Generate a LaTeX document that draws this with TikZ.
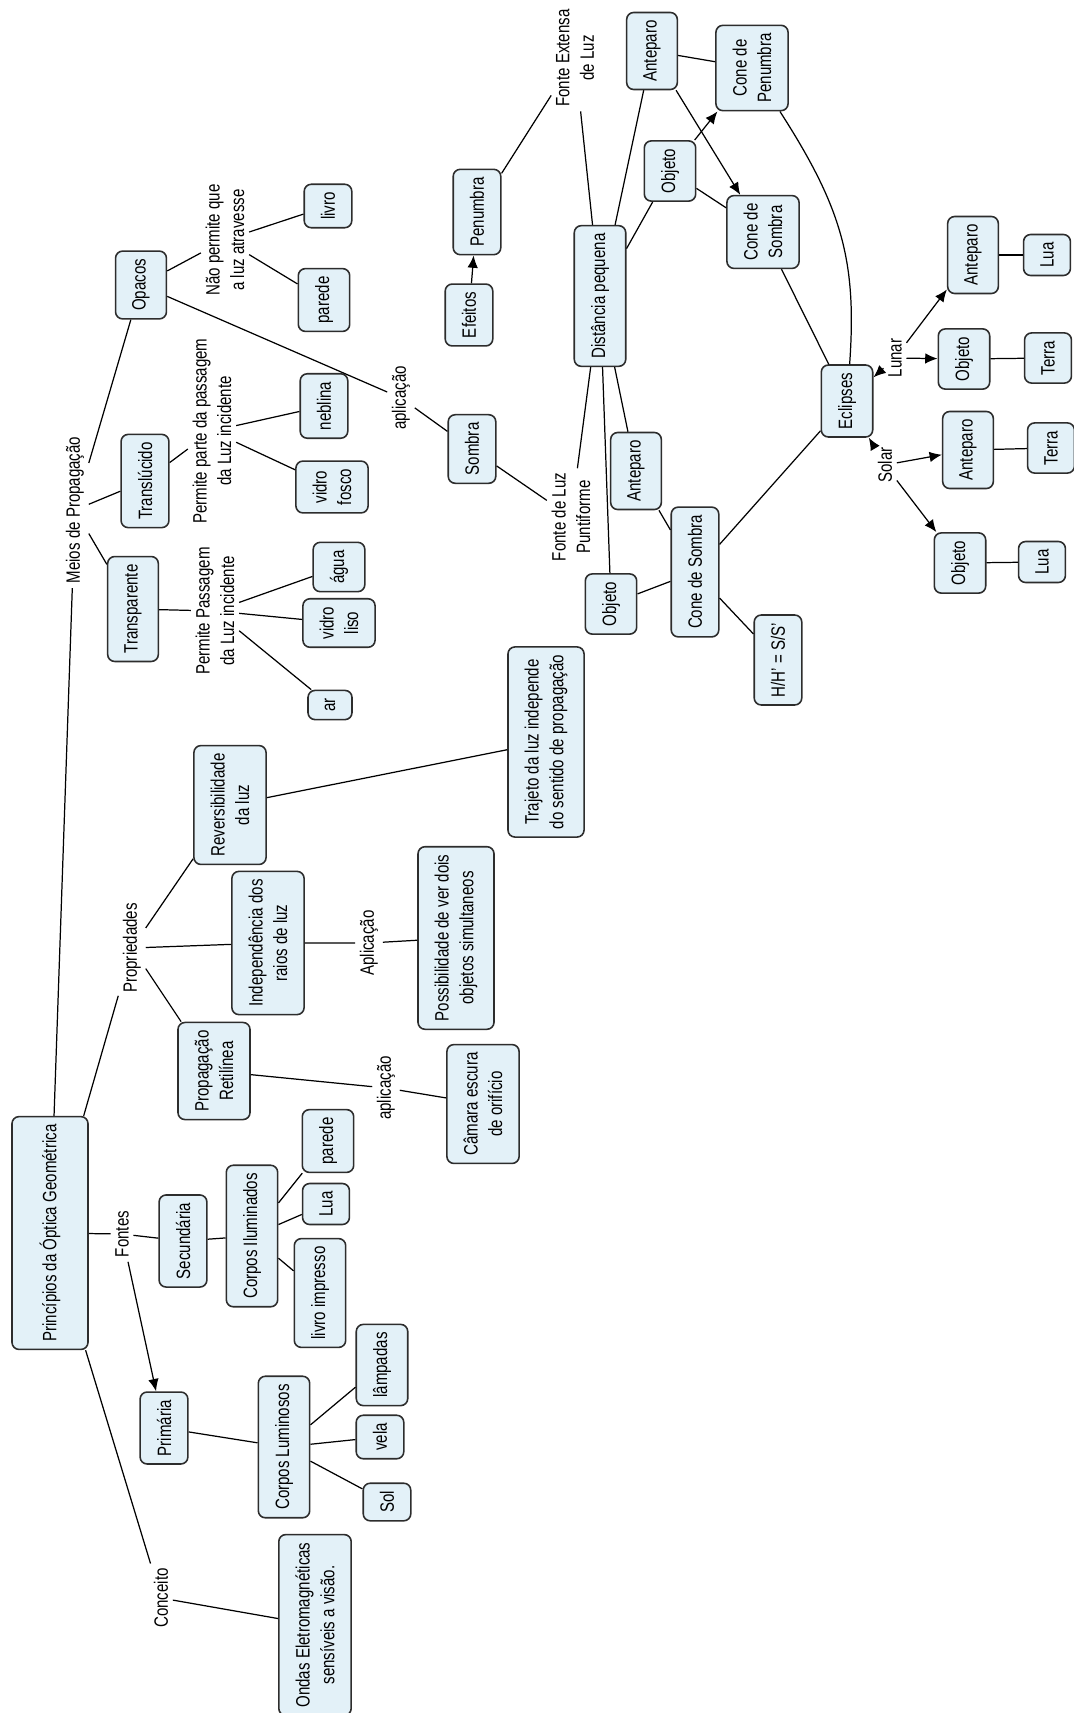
\documentclass[tikz,border=0pt]{standalone}
\usepackage{fontspec}
\setmainfont{Liberation Sans}[FakeStretch=0.78]
\usetikzlibrary{arrows.meta}
\definecolor{cmapfill}{RGB}{227,241,248}
\definecolor{cmapline}{RGB}{45,45,45}

\begin{document}
\begin{tikzpicture}[x=0.02cm,y=-0.02cm,
  conc/.style={draw=cmapline,line width=0.9pt,fill=cmapfill,rounded corners=4pt,rotate=90,align=center,inner xsep=4.5pt,inner ysep=9.5pt,font=\fontsize{11}{14}\selectfont},
  frase/.style={rotate=90,align=center,inner sep=2.5pt,font=\fontsize{11}{14}\selectfont},
  liga/.style={line width=0.7pt},
  seta/.style={line width=0.7pt,-{Latex[length=7pt,width=6pt]}}]
  \fill[white] (0,0) rectangle (1073,1713);
  \useasboundingbox (0,0) rectangle (1073,1713);

  % conceitos
  \node (princ) at (50,1233) [conc,minimum height=1.52cm] {Princípios da Óptica Geométrica};
  \node (opacos) at (141,285) [conc] {Opacos};
  \node (livro) at (328,206) [conc] {livro};
  \node (paredeop) at (324,300) [conc] {parede};
  \node (translucido) at (145,481) [conc] {Translúcido};
  \node (neblina) at (324,406) [conc] {neblina};
  \node (vidrofosco) at (332,487) [conc] {vidro\\fosco};
  \node (transparente) at (133,609) [conc] {Transparente};
  \node (agua) at (339,567) [conc] {água};
  \node (vidroliso) at (339,623) [conc] {vidro\\liso};
  \node (ar) at (330,705) [conc] {ar};
  \node (penumbra) at (477,212) [conc] {Penumbra};
  \node (efeitos) at (469,315) [conc] {Efeitos};
  \node (sombra) at (472,449) [conc] {Sombra};
  \node (dist) at (600,296) [conc] {Distância pequena};
  \node (antA) at (652,51) [conc] {Anteparo};
  \node (conepen) at (752,68) [conc] {Cone de\\Penumbra};
  \node (objA) at (670,171) [conc] {Objeto};
  \node (conesomA) at (763,232) [conc] {Cone de\\Sombra};
  \node (antB) at (636,471) [conc] {Anteparo};
  \node (objB) at (611,604) [conc] {Objeto};
  \node (conesomB) at (695,572) [conc] {Cone de Sombra};
  \node (hh) at (778,660) [conc] {H/H' = S/S'};
  \node (eclipses) at (847,401) [conc] {Eclipses};
  \node (antLun) at (973,255) [conc] {Anteparo};
  \node (luaLun) at (1047,255) [conc] {Lua};
  \node (objLun) at (964,359) [conc] {Objeto};
  \node (terraLun) at (1048,358) [conc] {Terra};
  \node (antSol) at (968,450) [conc] {Anteparo};
  \node (terraSol) at (1051,448) [conc] {Terra};
  \node (objSol) at (960,563) [conc] {Objeto};
  \node (luaSol) at (1042,562) [conc] {Lua};
  \node (trajeto) at (546,742) [conc] {Trajeto da luz independe\\do sentido de propagação};
  \node (revers) at (230,805) [conc] {Reversibilidade\\da luz};
  \node (indep) at (268,943) [conc] {Independência dos\\raios de luz};
  \node (possib) at (456,938) [conc] {Possibilidade de ver dois\\objetos simultaneos};
  \node (propag) at (214,1071) [conc] {Propagação\\Retilínea};
  \node (camara) at (483,1104) [conc] {Câmara escura\\de orifício};
  \node (secund) at (183,1241) [conc] {Secundária};
  \node (corpilum) at (252,1236) [conc] {Corpos Iluminados};
  \node (paredeil) at (328,1141) [conc] {parede};
  \node (luail) at (326,1204) [conc] {Lua};
  \node (livroimp) at (320,1293) [conc] {livro impresso};
  \node (primaria) at (164,1428) [conc] {Primária};
  \node (corplum) at (284,1447) [conc] {Corpos Luminosos};
  \node (lampadas) at (382,1365) [conc] {lâmpadas};
  \node (vela) at (380,1437) [conc] {vela};
  \node (sol) at (387,1502) [conc] {Sol};
  \node (ondas) at (315,1625) [conc] {Ondas Eletromagnéticas\\sensíveis a visão.};

  % frases de ligacao
  \node (meios) at (75,510) [frase] {Meios de Propagação};
  \node (naoperm) at (225,240) [frase] {Não permite que\\a luz atravesse};
  \node (permparte) at (212,431) [frase] {Permite parte da passagem\\da Luz incidente};
  \node (permpass) at (215,611) [frase] {Permite Passagem\\da Luz incidente};
  \node (aplic1) at (401,398) [frase] {aplicação};
  \node (fontext) at (575,58) [frase] {Fonte Extensa\\de Luz};
  \node (fontpunt) at (571,517) [frase] {Fonte de Luz\\Puntiforme};
  \node (lunar) at (895,358) [frase] {Lunar};
  \node (solar) at (885,465) [frase] {Solar};
  \node (propried) at (132,948) [frase] {Propriedades};
  \node (aplic2) at (369,943) [frase] {Aplicação};
  \node (aplic3) at (386,1088) [frase] {aplicação};
  \node (fontes) at (122,1234) [frase] {Fontes};
  \node (conceito) at (161,1598) [frase] {Conceito};

  \draw[liga] (princ) to (meios) to (opacos);
  \draw[liga] (meios) to (translucido);
  \draw[liga] (meios) to (transparente);
  \draw[liga] (opacos) to (naoperm) to (livro);
  \draw[liga] (naoperm) to (paredeop);
  \draw[liga] (translucido) to (permparte) to (neblina);
  \draw[liga] (permparte) to (vidrofosco);
  \draw[liga] (transparente) to (permpass) to (agua);
  \draw[liga] (permpass) to (vidroliso);
  \draw[liga] (permpass) to (ar);
  \draw[liga] (opacos) to (aplic1) to (sombra) to (fontpunt) to (dist);
  \draw[liga] (penumbra) to (fontext) to (dist);
  \draw[seta] (efeitos) to (penumbra);
  \draw[liga] (dist) to (antA);
  \draw[liga] (dist) to (objA);
  \draw[liga] (dist) to (antB);
  \draw[liga] (dist) to (objB);
  \draw[liga] (antA) to (conepen);
  \draw[seta] (antA) to (conesomA);
  \draw[seta] (objA) to (conepen);
  \draw[liga] (objA) to (conesomA);
  \draw[liga] (antB) to (conesomB);
  \draw[liga] (objB) to (conesomB);
  \draw[liga] (conesomB) to (hh);
  \draw[liga] (conesomB) to (eclipses);
  \draw[liga] (conesomA) to (eclipses);
  \draw[liga] (conepen) .. controls (842,208) and (857,261) .. (eclipses);
  \draw[seta] (lunar) to (eclipses);
  \draw[seta] (solar) to (eclipses);
  \draw[seta] (lunar) to (antLun);
  \draw[seta] (lunar) to (objLun);
  \draw[seta] (solar) to (antSol);
  \draw[seta] (solar) to (objSol);
  \draw[liga] (antLun) to (luaLun);
  \draw[liga] (objLun) to (terraLun);
  \draw[liga] (antSol) to (terraSol);
  \draw[liga] (objSol) to (luaSol);
  \draw[liga] (revers) to (trajeto);
  \draw[liga] (princ) to (propried) to (revers);
  \draw[liga] (propried) to (indep) to (aplic2) to (possib);
  \draw[liga] (propried) to (propag) to (aplic3) to (camara);
  \draw[liga] (princ) to (fontes) to (secund) to (corpilum) to (paredeil);
  \draw[liga] (corpilum) to (luail);
  \draw[liga] (corpilum) to (livroimp);
  \draw[seta] (fontes) to (primaria);
  \draw[liga] (primaria) to (corplum) to (lampadas);
  \draw[liga] (corplum) to (vela);
  \draw[liga] (corplum) to (sol);
  \draw[liga] (princ) to (conceito) to (ondas);
\end{tikzpicture}
\end{document}
